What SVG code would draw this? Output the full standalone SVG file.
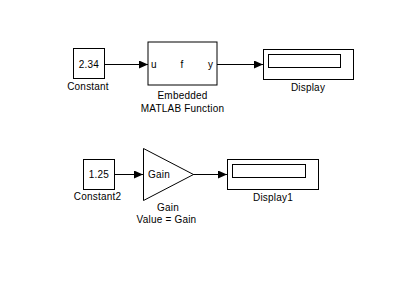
<svg xmlns="http://www.w3.org/2000/svg" width="410" height="281" viewBox="0 0 410 281">
<style>
.blk{fill:#fff;stroke:#000;stroke-width:1}
.t{font-family:"Liberation Sans",Arial,sans-serif;font-size:10px;letter-spacing:0.2px;fill:#000}
.c{text-anchor:middle}
.ln{stroke:#000;stroke-width:1;fill:none}
</style>
<defs>
<marker id="ah" markerWidth="9" markerHeight="8" refX="9" refY="4" orient="auto" markerUnits="userSpaceOnUse">
<path d="M0,0 L9,4 L0,8 Z" fill="#000"/>
</marker>
</defs>
<rect width="410" height="281" fill="#fff"/>
<g id="connectors">
<line class="ln" x1="104" y1="64.5" x2="148" y2="64.5" marker-end="url(#ah)"/>
<line class="ln" x1="217" y1="64.5" x2="263" y2="64.5" marker-end="url(#ah)"/>
<line class="ln" x1="114" y1="174.5" x2="143" y2="174.5" marker-end="url(#ah)"/>
<line class="ln" x1="193" y1="174.5" x2="227" y2="174.5" marker-end="url(#ah)"/>
</g>
<g id="constant">
<rect class="blk" x="73.5" y="48.5" width="31" height="30"/>
<text class="t c" x="89" y="68">2.34</text>
<text class="t c" x="88" y="90">Constant</text>
</g>
<g id="embedded">
<rect class="blk" x="148" y="42" width="69" height="43" stroke-width="2.5"/>
<text class="t" x="151" y="68">u</text>
<text class="t c" x="182" y="68">f</text>
<text class="t" x="208" y="68">y</text>
<text class="t c" x="182.5" y="99">Embedded</text>
<text class="t c" x="182.5" y="111.5">MATLAB Function</text>
</g>
<g id="display">
<rect class="blk" x="263.5" y="49.5" width="90" height="30"/>
<rect class="blk" x="268.5" y="54.5" width="72" height="13"/>
<text class="t c" x="308" y="91">Display</text>
</g>
<g id="constant2">
<rect class="blk" x="83.5" y="159.5" width="31" height="30"/>
<text class="t c" x="99" y="178">1.25</text>
<text class="t c" x="97.5" y="200">Constant2</text>
</g>
<g id="gain">
<polygon class="blk" points="143.5,148.5 193.5,174.5 143.5,200.5"/>
<text class="t" x="148" y="178">Gain</text>
<text class="t c" x="168" y="210.5">Gain</text>
<text class="t c" x="166.5" y="222.5" font-size="9.5px">Value = Gain</text>
</g>
<g id="display1">
<rect class="blk" x="227.5" y="159.5" width="91" height="30"/>
<rect class="blk" x="232.5" y="164.5" width="73" height="13"/>
<text class="t c" x="273" y="201">Display1</text>
</g>
</svg>
